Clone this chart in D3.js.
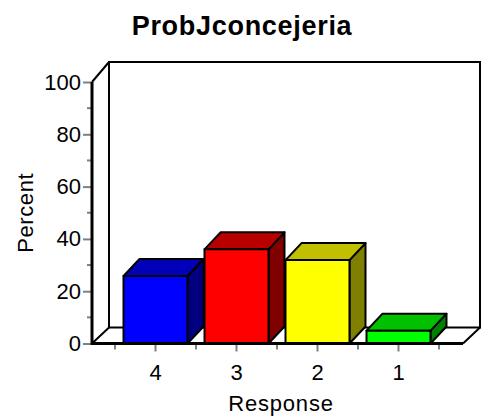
<!DOCTYPE html>
<html>
<head>
<meta charset="utf-8">
<script src="https://cdn.jsdelivr.net/npm/d3@7"></script>
<style>
body { margin: 0; background: #fff; }
text { font-family: Arial, "Liberation Sans", sans-serif; }
</style>
</head>
<body>
<script>
var width = 488, height = 417

// data
var categories = ['4', '3', '2', '1']
var percents = [25.8, 36.0, 31.9, 4.9]
var yTicks = [0, 20, 40, 60, 80, 100]
var yMinorTicks = [10, 30, 50, 70, 90]
var frontColors = ['#0000ff', '#ff0000', '#ffff00', '#00ff00']
var topColors = ['#0000b8', '#b80000', '#c0c000', '#00c000']
var sideColors = ['#000080', '#800000', '#808000', '#008000']

var floorLeft = 92, floorRight = 463
var wall = { dx: 17, dy: -16 }
var depth = { dx: 16, dy: -17 }

var svg = d3.select('body').append('svg').attr('width', width).attr('height', height)
svg.append('rect').attr('width', width).attr('height', height).attr('fill', '#fff')

var x = d3.scaleBand().domain(categories).range([115, 439]).paddingInner(0)
var y = d3.scaleLinear().domain([0, 100]).range([343.5, 82])
var barW = x.bandwidth() * 0.79

// back wall + floor outline
var y0 = y(0), yTop = 62
var frame = svg.append('g').attr('fill', 'none').attr('stroke', '#000').attr('stroke-width', 2)
frame.append('path').attr('d',
    `M${floorLeft + wall.dx},${y0 + wall.dy} L${floorLeft + wall.dx},${yTop} L${floorRight + wall.dx},${yTop} L${floorRight + wall.dx},${y0 + wall.dy} L${floorLeft + wall.dx},${y0 + wall.dy}`)
frame.append('path').attr('d', `M${floorLeft},${y0} L${floorLeft + wall.dx},${y0 + wall.dy}`)
frame.append('path').attr('d', `M${floorRight},${y0} L${floorRight + wall.dx},${y0 + wall.dy}`)
frame.append('path').attr('d', `M${floorLeft},${y(100)} L${floorLeft + wall.dx},${yTop}`)

// bars
var bars = svg.append('g').selectAll('g').data(percents).enter().append('g')
    .attr('stroke', '#000').attr('stroke-width', 2).attr('stroke-linejoin', 'round')
bars.each(function (d, i) {
    var g = d3.select(this)
    var x0 = x(categories[i]) + (x.bandwidth() - barW) / 2
    var x1 = x0 + barW
    var yt = y(d)
    g.append('path').attr('fill', sideColors[i])
        .attr('d', `M${x1},${y0} L${x1 + depth.dx},${y0 + depth.dy} L${x1 + depth.dx},${yt + depth.dy} L${x1},${yt} Z`)
    g.append('path').attr('fill', topColors[i])
        .attr('d', `M${x0},${yt} L${x0 + depth.dx},${yt + depth.dy} L${x1 + depth.dx},${yt + depth.dy} L${x1},${yt} Z`)
    g.append('rect').attr('fill', frontColors[i])
        .attr('x', x0).attr('y', yt).attr('width', barW).attr('height', y0 - yt)
})

// y axis
var yAxis = d3.axisLeft(y).tickValues(yTicks).tickSize(9).tickPadding(2)
var gy = svg.append('g').attr('transform', `translate(${floorLeft},0)`).call(yAxis)
gy.select('.domain').remove()
gy.selectAll('.tick line').attr('stroke', '#808080').attr('stroke-width', 2)
gy.selectAll('.tick text').attr('font-size', 22).attr('fill', '#000')
gy.selectAll('.minor').data(yMinorTicks).enter().append('line').attr('class', 'minor')
    .attr('x1', -5).attr('x2', 0).attr('y1', d => y(d)).attr('y2', d => y(d))
    .attr('stroke', '#808080').attr('stroke-width', 2)

// x axis
var xAxis = d3.axisBottom(x).tickSize(8).tickPadding(13)
var gx = svg.append('g').attr('transform', `translate(0,${y0})`).call(xAxis)
gx.select('.domain').remove()
gx.selectAll('.tick line').attr('stroke', '#808080').attr('stroke-width', 2)
gx.selectAll('.tick text').attr('font-size', 22).attr('fill', '#000')
var bounds = categories.map(c => x(c)).concat([x(categories[categories.length - 1]) + x.bandwidth()])
gx.selectAll('.minor').data(bounds).enter().append('line').attr('class', 'minor')
    .attr('x1', d => d).attr('x2', d => d).attr('y1', 0).attr('y2', 6)
    .attr('stroke', '#808080').attr('stroke-width', 2)

// thick front axis lines
svg.append('line').attr('x1', floorLeft).attr('x2', floorLeft).attr('y1', y(100)).attr('y2', y0 + 1.5)
    .attr('stroke', '#000').attr('stroke-width', 3)
svg.append('line').attr('x1', floorLeft).attr('x2', floorRight).attr('y1', y0).attr('y2', y0)
    .attr('stroke', '#000').attr('stroke-width', 3)

// titles
svg.append('text').text('ProbJconcejeria').attr('x', 242).attr('y', 35)
    .attr('text-anchor', 'middle').attr('font-size', 27).attr('font-weight', 'bold').attr('letter-spacing', 0.7)
svg.append('text').text('Response').attr('x', 281).attr('y', 411)
    .attr('text-anchor', 'middle').attr('font-size', 22).attr('letter-spacing', 0.8)
svg.append('text').text('Percent').attr('transform', `translate(33,${(y(0) + y(100)) / 2}) rotate(-90)`)
    .attr('text-anchor', 'middle').attr('font-size', 22).attr('letter-spacing', 0.6)
</script>
</body>
</html>
